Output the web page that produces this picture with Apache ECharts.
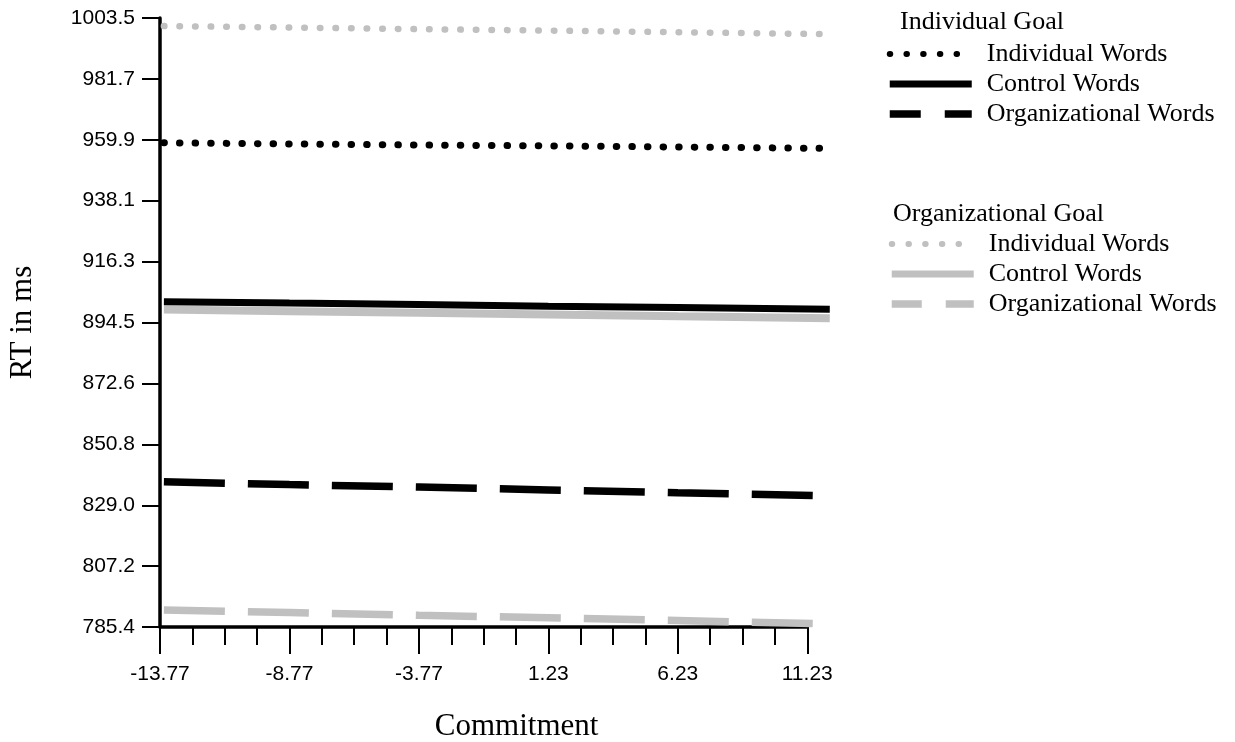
<!DOCTYPE html>
<html>
<head>
<meta charset="utf-8">
<script src="https://cdn.jsdelivr.net/npm/echarts@6/dist/echarts.min.js"></script>
<style>
html, body { margin: 0; padding: 0; background: #ffffff; }
#chart { width: 1235px; height: 742px; }
</style>
</head>
<body>
<div id="chart"></div>
<script>
const commitment = [-13.62, -8.77, -3.77, 1.23, 6.23, 12.1]

// Individual goal condition
const indivGoalIndivWords = [958.8, 958.4, 958.0, 957.7, 957.3, 956.8]
const indivGoalControlWords = [901.9, 901.4, 900.9, 900.3, 899.8, 899.2]
const indivGoalOrgWords = [837.4, 836.4, 835.5, 834.5, 833.5, 832.4]

// Organizational goal condition
const orgGoalIndivWords = [1000.6, 1000.1, 999.5, 999.0, 998.4, 997.7]
const orgGoalControlWords = [899.1, 898.5, 897.9, 897.3, 896.7, 896.0]
const orgGoalOrgWords = [791.5, 790.6, 789.6, 788.7, 787.7, 786.5]

// axis ticks
const yTicks = [785.4, 807.2, 829.0, 850.8, 872.6, 894.5, 916.3, 938.1, 959.9, 981.7, 1003.5]
const xMajorTicks = [-13.77, -8.77, -3.77, 1.23, 6.23, 11.23]
const xMinorTicks = [-12.52, -11.27, -10.02, -7.52, -6.27, -5.02, -2.52, -1.27, -0.02,
  2.48, 3.73, 4.98, 7.48, 8.73, 9.98]

const SERIF = '"Liberation Serif", "Times New Roman", serif'
const SANS = '"Liberation Sans", Arial, sans-serif'
const BLACK = '#000000'
const GRAY = '#c0c0c0'

const DOTS = [0.5, 15.1]
const DASHES = [61, 23]

// pixels per commitment unit, shared by both grids so the scales line up
const PX_PER_UNIT = 25.89
const X_MIN = -13.77
const X_AXIS_MAX = 11.23   // where the drawn axis stops
const X_DATA_MAX = 12.1    // the lines run a little past the axis

function pairs(values) {
  return commitment.map((x, i) => [x, values[i]])
}

function lineSeries(name, values, color, width, type, z) {
  return {
    name,
    type: 'line',
    xAxisIndex: 0,
    yAxisIndex: 0,
    data: pairs(values),
    symbol: 'none',
    clip: false,
    silent: true,
    z,
    itemStyle: { color },
    lineStyle: {
      color,
      width,
      type,
      cap: type === DOTS ? 'round' : 'butt'
    }
  }
}

const legendText = {
  fontFamily: SERIF,
  fontSize: 26,
  color: BLACK,
  padding: [0, 0, 0, 10]
}

const hiddenMarker = { color: 'transparent', borderWidth: 0, opacity: 0 }

const titleText = {
  fontFamily: SERIF,
  fontSize: 26,
  fontWeight: 'normal',
  color: BLACK
}

const chart = echarts.init(document.getElementById('chart'))

chart.setOption({
  animation: false,
  backgroundColor: '#ffffff',
  title: [
    { text: 'Individual Goal', left: 900, top: 9, padding: 0, textStyle: titleText },
    { text: 'Organizational Goal', left: 893, top: 201, padding: 0, textStyle: titleText }
  ],
  legend: [
    {
      orient: 'vertical',
      left: 886,
      top: 41,
      padding: 0,
      itemWidth: 82,
      itemHeight: 26,
      itemGap: 4,
      selectedMode: false,
      formatter: (name) => name.split(': ')[1],
      textStyle: legendText,
      itemStyle: hiddenMarker,
      data: [
        { name: 'Individual Goal: Individual Words', lineStyle: { width: 6, type: [0.5, 16.2], cap: 'round' } },
        { name: 'Individual Goal: Control Words', lineStyle: { width: 7, type: 'solid' } },
        { name: 'Individual Goal: Organizational Words', lineStyle: { width: 7.5, type: [31, 24] } }
      ]
    },
    {
      orient: 'vertical',
      left: 888,
      top: 231,
      padding: 0,
      itemWidth: 82,
      itemHeight: 26,
      itemGap: 4,
      selectedMode: false,
      formatter: (name) => name.split(': ')[1],
      textStyle: legendText,
      itemStyle: hiddenMarker,
      data: [
        { name: 'Organizational Goal: Individual Words', lineStyle: { width: 6, type: [0.5, 16.2], cap: 'round' } },
        { name: 'Organizational Goal: Control Words', lineStyle: { width: 7, type: 'solid' } },
        { name: 'Organizational Goal: Organizational Words', lineStyle: { width: 7.5, type: [30, 24] } }
      ]
    }
  ],
  grid: [
    // data area, a bit wider than the axis
    {
      left: 160, top: 18, height: 609,
      width: (X_DATA_MAX - X_MIN) * PX_PER_UNIT,
      containLabel: false, outerBoundsMode: 'none'
    },
    // axis area, ends at the last labelled tick
    {
      left: 160, top: 18, height: 609,
      width: (X_AXIS_MAX - X_MIN) * PX_PER_UNIT,
      containLabel: false, outerBoundsMode: 'none'
    }
  ],
  xAxis: [
    {
      type: 'value',
      gridIndex: 0,
      min: X_MIN,
      max: X_DATA_MAX,
      show: false
    },
    {
      type: 'value',
      gridIndex: 1,
      min: X_MIN,
      max: X_AXIS_MAX,
      position: 'bottom',
      name: 'Commitment',
      nameLocation: 'middle',
      nameGap: 84,
      nameTextStyle: { fontFamily: SERIF, fontSize: 31, color: BLACK, padding: [0, 0, 0, 66] },
      axisLine: { show: true, onZero: false, lineStyle: { color: BLACK, width: 3.5 } },
      axisTick: { show: true, customValues: xMajorTicks, length: 27, lineStyle: { color: BLACK, width: 2 } },
      axisLabel: {
        customValues: xMajorTicks,
        margin: 37,
        fontFamily: SANS,
        fontSize: 21,
        color: BLACK,
        formatter: (v) => v.toFixed(2)
      },
      splitLine: { show: false }
    },
    {
      type: 'value',
      gridIndex: 1,
      min: X_MIN,
      max: X_AXIS_MAX,
      position: 'bottom',
      axisLine: { show: false },
      axisTick: { show: true, customValues: xMinorTicks, length: 18, lineStyle: { color: BLACK, width: 2 } },
      axisLabel: { show: false },
      splitLine: { show: false }
    }
  ],
  yAxis: [
    {
      type: 'value',
      gridIndex: 0,
      min: 785.4,
      max: 1003.5,
      name: 'RT in ms',
      nameLocation: 'middle',
      nameGap: 122,
      nameTextStyle: { fontFamily: SERIF, fontSize: 31, color: BLACK },
      axisLine: { show: true, onZero: false, lineStyle: { color: BLACK, width: 3.5 } },
      axisTick: { show: true, customValues: yTicks, length: 18, lineStyle: { color: BLACK, width: 2 } },
      axisLabel: {
        customValues: yTicks,
        margin: 25,
        fontFamily: SANS,
        fontSize: 21,
        color: BLACK,
        formatter: (v) => v.toFixed(1)
      },
      splitLine: { show: false }
    },
    {
      type: 'value',
      gridIndex: 1,
      min: 785.4,
      max: 1003.5,
      show: false
    }
  ],
  series: [
    lineSeries('Organizational Goal: Individual Words', orgGoalIndivWords, GRAY, 6.5, DOTS, 2),
    lineSeries('Organizational Goal: Control Words', orgGoalControlWords, GRAY, 8, 'solid', 2),
    lineSeries('Organizational Goal: Organizational Words', orgGoalOrgWords, GRAY, 7.5, DASHES, 2),
    lineSeries('Individual Goal: Individual Words', indivGoalIndivWords, BLACK, 7, DOTS, 3),
    lineSeries('Individual Goal: Control Words', indivGoalControlWords, BLACK, 7, 'solid', 3),
    lineSeries('Individual Goal: Organizational Words', indivGoalOrgWords, BLACK, 7.5, DASHES, 3)
  ]
})
</script>
</body>
</html>
